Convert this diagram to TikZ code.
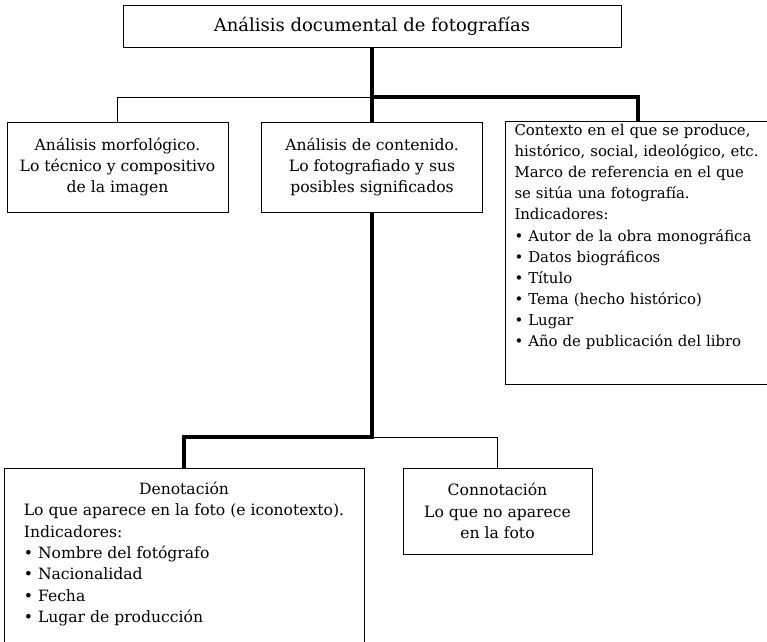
\documentclass[tikz,border=0pt]{standalone}
\usepackage{fontspec}
\setmainfont{DejaVu Serif}
\usepackage{tikz}
\usetikzlibrary{calc}

\tikzset{
  caja/.style={draw=black, line width=1pt, inner sep=0pt, font=\fontsize{15.6}{21.3}\selectfont},
  fino/.style={line width=1pt},
  grueso/.style={line width=3.2pt},
}

\begin{document}
\begin{tikzpicture}[x=1pt, y=-1pt]
    \clip (0,0) rectangle (767,641);
    \node[caja, minimum width=498pt, minimum height=42pt, font=\fontsize{18}{22}\selectfont] (titulo) at (372,26) {Análisis documental de fotografías};
    \node[caja, minimum width=221pt, minimum height=90pt, align=center] (morfo) at (117.5,167) {Análisis morfológico.\\ Lo técnico y compositivo\\ de la imagen};
    \node[caja, minimum width=221pt, minimum height=90pt, align=center] (contenido) at (372,167) {Análisis de contenido.\\ Lo fotografiado y sus\\ posibles significados};
    \node[caja, anchor=north west, text width=262pt, inner xsep=9pt, inner ysep=3pt, text height=11pt, text depth=246pt, align=left, font=\fontsize{14.9}{21.1}\selectfont] (contexto) at (505,121) {Contexto en el que se produce,\\ histórico, social, ideológico, etc.\\ Marco de referencia en el que\\ se sitúa una fotografía.\\ Indicadores:\\ \textbullet\ Autor de la obra monográfica\\ \textbullet\ Datos biográficos\\ \textbullet\ Título\\ \textbullet\ Tema (hecho histórico)\\ \textbullet\ Lugar\\ \textbullet\ Año de publicación del libro};
    \node[caja, anchor=north, minimum width=360pt, inner ysep=11pt, text height=15pt, text depth=200pt] (denota) at (184,468) {\begin{tabular}[t]{@{}l@{}}\multicolumn{1}{@{}c@{}}{Denotación}\\ Lo que aparece en la foto (e iconotexto).\\ Indicadores:\\ \textbullet\ Nombre del fotógrafo\\ \textbullet\ Nacionalidad\\ \textbullet\ Fecha\\ \textbullet\ Lugar de producción\end{tabular}};
    \node[caja, minimum width=189pt, minimum height=86pt, align=center] (connota) at (497.5,511) {Connotación\\ Lo que no aparece\\ en la foto};
    \coordinate (rama) at (372,97);
    \coordinate (rama2) at (372,437);
    \coordinate (ctx) at ($(contexto.north west)+(133,0)$);
    \draw[fino] (rama) -| (morfo.north);
    \draw[fino] (rama2) -| (connota.north);
    \draw[grueso] (titulo.south) -- (contenido.north);
    \draw[grueso] (rama) -| (ctx);
    \draw[grueso] (contenido.south) -- (rama2) -| (denota.north);
\end{tikzpicture}
\end{document}
